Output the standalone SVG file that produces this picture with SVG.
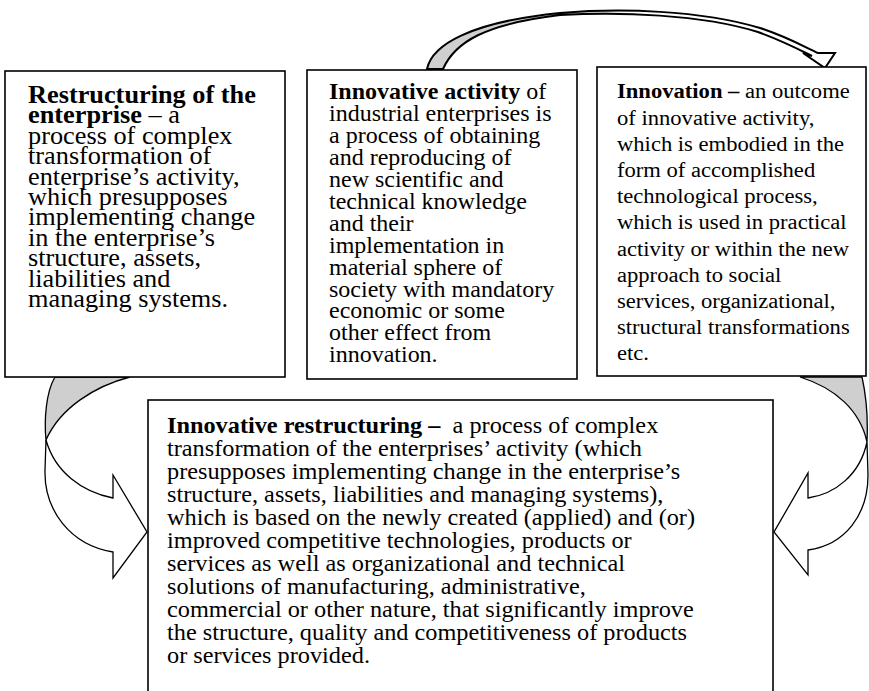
<svg xmlns="http://www.w3.org/2000/svg" width="869" height="691" viewBox="0 0 869 691">
<style>
.box{fill:#fff;stroke:#000;stroke-width:1.6}
.arr{fill:#fff;stroke:#000;stroke-width:1.3;stroke-linejoin:miter}
.grey{fill:#cfcfcf;stroke:#000;stroke-width:1.3}
text{font-family:"Liberation Serif","Times New Roman",serif;fill:#000}
.b{font-weight:bold}
</style>
<defs>
<linearGradient id="topg" gradientUnits="userSpaceOnUse" x1="427" y1="0" x2="836" y2="0">
<stop offset="0" stop-color="#cfcfcf"/>
<stop offset="0.42" stop-color="#cfcfcf"/>
<stop offset="0.5" stop-color="#ffffff"/>
</linearGradient>
</defs>
<rect width="869" height="691" fill="#fff"/>

<g id="connectors">
<path d="M427,69 C432,45 470,22 560,13 C620,8 700,10 760,28 C785,36 805,47 818,53 L835,53 L825,68 L803,53 L812,56 C800,50 783,41 758,32 C700,14 620,12 560,15 C485,24 455,42 443,69 Z" fill="url(#topg)" stroke="#000" stroke-width="2"/>
<path class="grey" d="M130,377 C95,386 60,408 46,440 C44,420 46,392 55,377 Z"/>
<path class="arr" d="M46,440 C55,472 82,492 113,498 L113,475 L147,532 L113,578 L113,552 C70,545 44,510 45,470 Z"/>
<path class="grey" d="M800,377 C835,388 860,410 867,442 C868,420 866,395 862,377 Z"/>
<path class="arr" d="M867,442 C860,475 835,494 808,498 L808,473 L774,532 L808,575 L808,550 C845,545 868,515 868,475 Z"/>
</g>

<g id="restructuring">
<rect class="box" x="5" y="71" width="280" height="306"/>
<g transform="translate(28,0) scale(1.087,1)" font-size="24.2">
<text y="103"><tspan class="b">Restructuring of the</tspan></text>
<text y="123.4"><tspan class="b">enterprise</tspan> – a</text>
<text y="143.8">process of complex</text>
<text y="164.2">transformation of</text>
<text y="184.6">enterprise’s activity,</text>
<text y="205">which presupposes</text>
<text y="225.4">implementing change</text>
<text y="245.8">in the enterprise’s</text>
<text y="266.2">structure, assets,</text>
<text y="286.6">liabilities and</text>
<text y="307">managing systems.</text>
</g>
</g>

<g id="innovative-activity">
<rect class="box" x="307" y="70" width="270" height="309"/>
<g transform="translate(329,0) scale(1.067,1)" font-size="22.5">
<text y="99.5"><tspan class="b">Innovative activity</tspan> of</text>
<text y="121.4">industrial enterprises is</text>
<text y="143.3">a process of obtaining</text>
<text y="165.2">and reproducing of</text>
<text y="187.1">new scientific and</text>
<text y="209">technical knowledge</text>
<text y="230.9">and their</text>
<text y="252.8">implementation in</text>
<text y="274.7">material sphere of</text>
<text y="296.6">society with mandatory</text>
<text y="318.5">economic or some</text>
<text y="340.4">other effect from</text>
<text y="362.3">innovation.</text>
</g>
</g>

<g id="innovation">
<rect class="box" x="597" y="67" width="269" height="309"/>
<g transform="translate(617,0) scale(1.046,1)" font-size="21.6">
<text y="98.5"><tspan class="b">Innovation –</tspan> an outcome</text>
<text y="124.7">of innovative activity,</text>
<text y="150.9">which is embodied in the</text>
<text y="177.1">form of accomplished</text>
<text y="203.3">technological process,</text>
<text y="229.5">which is used in practical</text>
<text y="255.7">activity or within the new</text>
<text y="281.9">approach to social</text>
<text y="308.1">services, organizational,</text>
<text y="334.3">structural transformations</text>
<text y="360.5">etc.</text>
</g>
</g>

<g id="innovative-restructuring">
<rect class="box" x="148" y="400" width="625" height="300"/>
<g transform="translate(167,0) scale(1.066,1)" font-size="22.8">
<text y="433" xml:space="preserve"><tspan class="b">Innovative restructuring –</tspan>  a process of complex</text>
<text y="456">transformation of the enterprises’ activity (which</text>
<text y="479">presupposes implementing change in the enterprise’s</text>
<text y="502">structure, assets, liabilities and managing systems),</text>
<text y="525">which is based on the newly created (applied) and (or)</text>
<text y="548">improved competitive technologies, products or</text>
<text y="571">services as well as organizational and technical</text>
<text y="594">solutions of manufacturing, administrative,</text>
<text y="617">commercial or other nature, that significantly improve</text>
<text y="640">the structure, quality and competitiveness of products</text>
<text y="663">or services provided.</text>
</g>
</g>
</svg>
